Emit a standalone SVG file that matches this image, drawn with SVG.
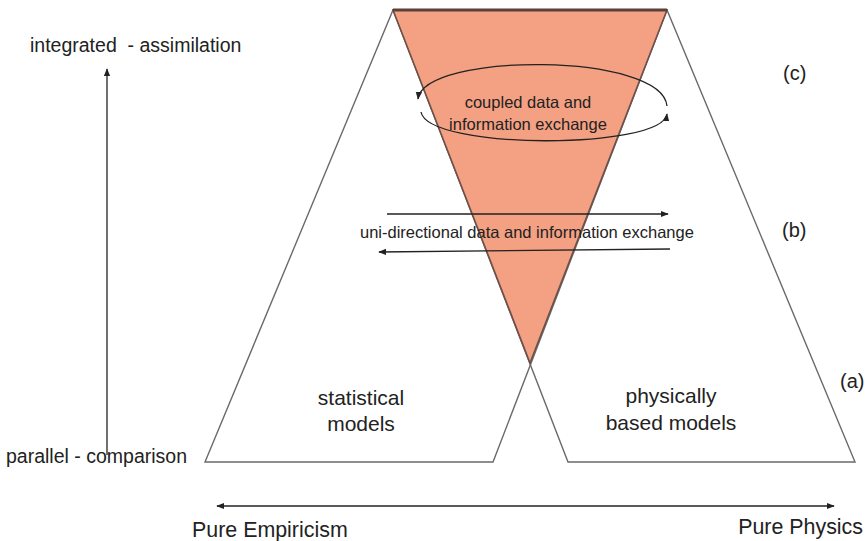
<svg xmlns="http://www.w3.org/2000/svg" width="868" height="541" viewBox="0 0 868 541">
  <style>
    text { font-family: "Liberation Sans", Arial, sans-serif; fill: #222; }
    .shape { fill: none; stroke: #6a6a6a; stroke-width: 1.4; }
    .conn { fill: none; stroke: #222; stroke-width: 1.3; }
    .big { font-size: 21px; }
    .axis { font-size: 19.5px; }
  </style>
  <defs>
    <marker id="ah" viewBox="0 0 10 10" refX="9" refY="5" markerWidth="8" markerHeight="8" orient="auto-start-reverse" markerUnits="userSpaceOnUse">
      <path d="M0,1 L10,5 L0,9 z" fill="#222"/>
    </marker>
  </defs>
  <rect width="868" height="541" fill="#fff"/>

  <!-- statistical models wedge -->
  <g id="statistical">
    <polygon class="shape" points="393,10 667,10 493,462 205,462"/>
    <text class="big" x="361" y="405" text-anchor="middle">statistical</text>
    <text class="big" x="361" y="431" text-anchor="middle">models</text>
  </g>

  <!-- physically based models wedge -->
  <g id="physical">
    <polygon class="shape" points="393,10 667,10 855,462 568,462"/>
    <text class="big" x="671" y="403" text-anchor="middle">physically</text>
    <text class="big" x="671" y="430" text-anchor="middle">based models</text>
  </g>

  <!-- integration zone -->
  <g id="coupling">
    <polygon points="393,10 667,10 530,363" fill="#f4a083" stroke="#6e5048" stroke-width="1.6"/>
    <line x1="393" y1="10" x2="667" y2="10" stroke="#5a4038" stroke-width="3"/>
    <text x="528" y="108" font-size="16.5" text-anchor="middle">coupled data and</text>
    <text x="528" y="130" font-size="16.5" text-anchor="middle">information exchange</text>
  </g>

  <g id="labels">
    <text class="axis" x="30" y="52" xml:space="preserve">integrated  - assimilation</text>
    <text class="axis" x="6" y="463">parallel - comparison</text>
    <text x="783" y="80" font-size="20">(c)</text>
    <text x="782" y="237" font-size="20">(b)</text>
    <text x="840" y="388" font-size="20">(a)</text>
    <text x="360" y="238" font-size="16.5">uni-directional data and information exchange</text>
    <text x="192" y="537" font-size="21.4">Pure Empiricism</text>
    <text x="863" y="534" font-size="21.4" text-anchor="end">Pure Physics</text>
  </g>

  <g id="connectors">
    <!-- coupled exchange loop -->
    <path class="conn" d="M667,106 C662,52 424,52 418,99" marker-end="url(#ah)"/>
    <path class="conn" d="M421,112 C428,150 662,150 667,114" marker-end="url(#ah)"/>
    <!-- uni-directional exchange -->
    <line class="conn" x1="387" y1="214" x2="668" y2="214" marker-end="url(#ah)"/>
    <line class="conn" x1="670" y1="249" x2="379" y2="252" marker-end="url(#ah)"/>
    <!-- axes -->
    <line class="conn" x1="107" y1="455" x2="107" y2="69" marker-end="url(#ah)"/>
    <line class="conn" x1="217" y1="506" x2="834" y2="506" marker-start="url(#ah)" marker-end="url(#ah)"/>
  </g>
</svg>
